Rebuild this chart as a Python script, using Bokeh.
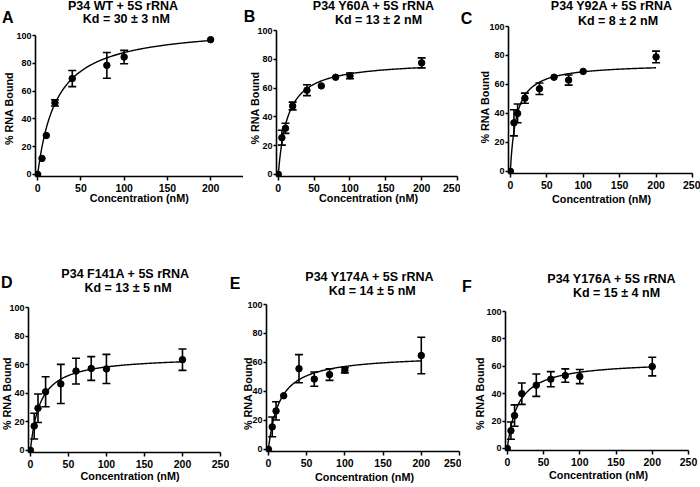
import numpy as np
from bokeh.plotting import figure
from bokeh.models import (ColumnDataSource, Whisker, TeeHead, FixedTicker, Range1d, GridBox)
from bokeh.core.properties import value
from bokeh.embed import file_html
from bokeh.resources import INLINE

# ---------------- data ----------------
conc_a = [0, 5, 10, 20, 40, 80, 100, 200]
bound_a = [0, 11.5, 28, 51.5, 69, 78.5, 84.5, 97]
sem_a = [0, 0, 0, 2.2, 5.8, 9.3, 4.8, 0]

conc_b = [0, 5, 10, 20, 40, 60, 80, 100, 200]
bound_b = [0, 25.5, 32, 47.5, 58.5, 61.5, 67.5, 68.5, 77.5]
sem_b = [0, 5.2, 3.5, 2.7, 3.8, 0, 0, 2.0, 3.5]

conc_c = [0, 5, 10, 20, 40, 60, 80, 100, 200]
bound_c = [0, 33.5, 40, 50.5, 57, 65, 63, 69, 79]
sem_c = [0, 9, 6.5, 3.5, 4, 0, 3.5, 0, 4]

conc_d = [0, 5, 10, 20, 40, 60, 80, 100, 200]
bound_d = [0, 17, 29.5, 41, 46.5, 55.5, 57.3, 57, 63.5]
sem_d = [0, 9, 10, 10.5, 13.7, 9, 8.3, 10.2, 7.5]

conc_e = [0, 5, 10, 20, 40, 60, 80, 100, 200]
bound_e = [0, 15.5, 26.5, 37, 55.7, 48.5, 51.6, 54.6, 64.8]
sem_e = [0, 6.8, 6.3, 0, 9.7, 4.9, 4.0, 1.8, 12.6]

conc_f = [0, 5, 10, 20, 40, 60, 80, 100, 200]
bound_f = [0, 13, 24, 40, 46.2, 50.6, 53.2, 52.5, 59.8]
sem_f = [0, 6.3, 7.8, 7.8, 8.2, 5.5, 4.9, 5.2, 6.8]

# one-site binding fit parameters (Bmax, Kd) matching the drawn curves
fit_bmax = [107, 79, 74.5, 66, 65.5, 64]
fit_kd = [22, 13, 8.4, 13, 14.5, 15]

letters = ["A", "B", "C", "D", "E", "F"]
title_line1 = ["P34 WT + 5S rRNA", "P34 Y60A  + 5S rRNA", "P34 Y92A  + 5S rRNA",
               "P34 F141A  + 5S rRNA", "P34 Y174A  + 5S rRNA", "P34 Y176A  + 5S rRNA"]
title_line2 = ["Kd = 30 \u00b1 3 nM", "Kd = 13 \u00b1 2 nM", "Kd = 8 \u00b1 2 nM",
               "Kd = 13 \u00b1 5 nM", "Kd = 14 \u00b1 5 nM", "Kd = 15 \u00b1 4 nM"]
x_label = "Concentration (nM)"
y_label = "% RNA Bound"
y_ticks = [0, 20, 40, 60, 80, 100]
x_ticks_a = [0, 50, 100, 150, 200]
x_ticks = [0, 50, 100, 150, 200, 250]

series = [(conc_a, bound_a, sem_a), (conc_b, bound_b, sem_b), (conc_c, bound_c, sem_c),
          (conc_d, bound_d, sem_d), (conc_e, bound_e, sem_e), (conc_f, bound_f, sem_f)]

# ---------------- layout (page pixel coordinates) ----------------
PAGE_W, PAGE_H = 700, 487
FONT = "Liberation Sans"
PADX = 2.5
PADY = 1.5

specs = [
    dict(box=(0, 0, 243, 240), x0=36.7, xt=200, xtp=210, xmax=238, y0=174.3, y100=35,
         let=(7.2, 17), t1=(122.5, 5.5), t2=(125.8, 18.5), xl=(138.8, 197), yl=(8.3, 108), xticks=x_ticks_a),
    dict(box=(243, 0, 460, 240), x0=277.7, xt=250, xtp=457.3, xmax=250, y0=174.3, y100=30,
         let=(249, 15.8), t1=(375, 5.5), t2=(378, 19), xl=(368, 197), yl=(254, 107.5), xticks=x_ticks),
    dict(box=(460, 0, 700, 240), x0=510, xt=250, xtp=692.3, xmax=250, y0=170.7, y100=26,
         let=(466, 17.5), t1=(613, 5.5), t2=(617.5, 20), xl=(601, 198), yl=(484, 106.5), xticks=x_ticks),
    dict(box=(0, 240, 229, 487), x0=30, xt=250, xtp=220, xmax=250, y0=450, y100=306.7,
         let=(6.2, 281.7), t1=(126.7, 273.5), t2=(127.5, 287), xl=(129.5, 475), yl=(6.7, 393), xticks=x_ticks),
    dict(box=(229, 240, 461, 487), x0=268.3, xt=250, xtp=459.3, xmax=250, y0=449.3, y100=304,
         let=(234.5, 282.5), t1=(371, 276.5), t2=(371.7, 290), xl=(364, 476), yl=(247.5, 393), xticks=x_ticks),
    dict(box=(461, 240, 700, 487), x0=506.7, xt=250, xtp=688.3, xmax=250, y0=447.7, y100=311,
         let=(466.5, 286), t1=(613, 278), t2=(616, 292), xl=(598, 474), yl=(479, 393), xticks=x_ticks),
]


def make_panel(i):
    s = specs[i]
    bl, bt, br, bb = s["box"]
    W, H = br - bl, bb - bt

    ppx = (s["xtp"] - s["x0"]) / s["xt"]
    ppy = (s["y0"] - s["y100"]) / 100.0
    f_left = s["x0"] - PADX * ppx
    f_right = s["x0"] + s["xmax"] * ppx
    f_bottom = s["y0"] + PADY * ppy
    f_top = s["y100"]

    mbl = round(f_left - bl)
    mbr = max(0, W - round(f_right - bl))
    mbt = round(f_top - bt)
    mbb = H - round(f_bottom - bt)

    p = figure(width=W, height=H, output_backend="svg", toolbar_location=None,
               x_range=Range1d(-PADX, s["xmax"]), y_range=Range1d(-PADY, 100),
               min_border_left=mbl, min_border_right=mbr, min_border_top=mbt, min_border_bottom=mbb,
               tools="", frame_align=False)
    p.grid.visible = False
    p.outline_line_color = None
    p.background_fill_color = None
    p.border_fill_color = None

    for ax in (p.xaxis[0], p.yaxis[0]):
        ax.axis_line_width = 1.6
        ax.axis_line_color = "black"
        ax.major_tick_line_width = 1.5
        ax.major_tick_line_color = "black"
        ax.minor_tick_line_color = None
        ax.major_tick_in = 0
        ax.major_label_text_font = FONT
        ax.major_label_text_font_style = "bold"
        ax.major_label_text_color = "black"
    p.xaxis[0].ticker = FixedTicker(ticks=s["xticks"])
    p.yaxis[0].ticker = FixedTicker(ticks=y_ticks)
    p.xaxis[0].major_tick_out = 4
    p.xaxis[0].major_label_standoff = 3
    p.xaxis[0].major_label_text_font_size = "10.5px"
    p.yaxis[0].major_tick_out = 3
    p.yaxis[0].major_label_standoff = 1
    p.yaxis[0].major_label_text_font_size = "9px"

    conc, bound, sem = series[i]
    # fit curve
    cx = np.linspace(0, 200, 201)
    cy = fit_bmax[i] * cx / (fit_kd[i] + cx)
    p.line(cx, cy, line_color="black", line_width=1.4)

    # error bars (only where visible)
    ex = [c for c, e in zip(conc, sem) if e > 0]
    eu = [b + e for b, e in zip(bound, sem) if e > 0]
    el = [b - e for b, e in zip(bound, sem) if e > 0]
    src = ColumnDataSource(dict(x=ex, upper=eu, lower=el))
    w = Whisker(base="x", upper="upper", lower="lower", source=src, dimension="height",
                line_color="black", line_width=1.6,
                upper_head=TeeHead(size=8, line_width=1.6, line_color="black"),
                lower_head=TeeHead(size=8, line_width=1.6, line_color="black"))
    p.add_layout(w)

    p.scatter(conc, bound, size=6.5, color="black", marker="circle")
    return p


panels = [make_panel(i) for i in range(6)]

# ---------------- text overlay (page-pixel coordinates) ----------------
ov = figure(width=PAGE_W, height=PAGE_H, output_backend="svg", toolbar_location=None, tools="",
            x_range=Range1d(0, PAGE_W), y_range=Range1d(0, PAGE_H), title=None,
            x_axis_location=None, y_axis_location=None, min_border=0, frame_align=False)
ov.min_border_left = ov.min_border_right = ov.min_border_top = ov.min_border_bottom = 0
ov.grid.visible = False
ov.outline_line_color = None
ov.background_fill_color = None
ov.border_fill_color = None


def put(key, texts, size, angle=0.0):
    xs = [specs[i][key][0] for i in range(6)]
    ys = [PAGE_H - specs[i][key][1] for i in range(6)]
    ov.text(x=xs, y=ys, text=texts, text_font=value(FONT), text_font_style="bold",
            text_font_size=size, text_color="black", text_align="center",
            text_baseline="middle", angle=angle)


put("let", letters, "16px")
put("t1", title_line1, "12.5px")
put("t2", title_line2, "12.5px")
put("xl", [x_label] * 6, "10.8px")
put("yl", [y_label] * 6, "10.8px", angle=np.pi / 2)

# column tracks: 0,229,243,460,461,700 ; row tracks: 0,240,487
grid = GridBox(children=[
    (panels[0], 0, 0, 1, 2),
    (panels[1], 0, 2, 1, 1),
    (panels[2], 0, 3, 1, 2),
    (panels[3], 1, 0, 1, 1),
    (panels[4], 1, 1, 1, 3),
    (panels[5], 1, 4, 1, 1),
    (ov, 0, 0, 2, 5),
], cols=["229px", "14px", "217px", "1px", "239px"], rows=["240px", "247px"], spacing=0)

open("out.html", "w").write(file_html(grid, INLINE))
